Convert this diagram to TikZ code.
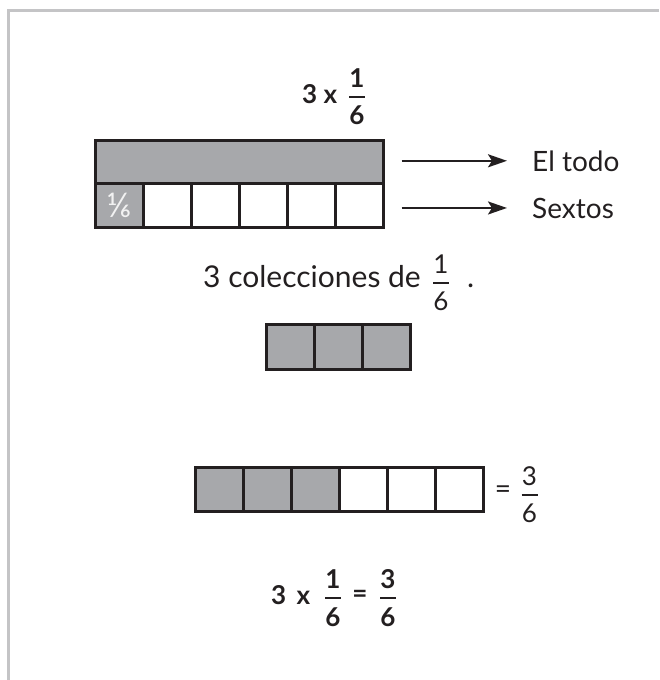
\documentclass[tikz,border=0pt]{standalone}
\usepackage{fontspec}
\setmainfont{Lato}
\usetikzlibrary{arrows.meta,calc,positioning}
\definecolor{barF}{HTML}{A7A8AB}
\definecolor{barD}{HTML}{231F20}
\definecolor{frameC}{HTML}{C4C4C6}
\definecolor{txtC}{HTML}{231F20}
\definecolor{cellT}{HTML}{F2F2F2}
\tikzset{
  cell/.style={draw=barD, line width=3pt, minimum width=48pt, minimum height=44pt, inner sep=0pt, fill=white},
  shaded/.style={cell, fill=barF},
  arr/.style={-{Stealth[length=19pt,width=13pt,inset=4pt]}, draw=barD, line width=2.2pt},
  lab/.style={font=\fontsize{28}{31}\selectfont, text=txtC, inner sep=0pt, anchor=base west},
  big/.style={lab, font=\fontsize{30}{34}\selectfont},
  bld/.style={font=\fontsize{26}{30}\selectfont\bfseries, text=txtC, inner sep=0pt, anchor=base west},
  fnum/.style={font=\fontsize{26}{28}\selectfont, text=txtC, inner sep=0pt},
  fnumb/.style={fnum, font=\fontsize{26}{28}\selectfont\bfseries},
  fbar/.style={draw=txtC, line width=2pt},
}
\newcommand\fr[4][fnum]{%
  \draw[fbar] ($(#2)+(-8,0)$) -- ($(#2)+(8,0)$);
  \node[#1, anchor=south] (#2n) at ($(#2)+(0,-9)$) {#3};
  \node[#1, anchor=north] (#2d) at ($(#2)+(0,9)$) {#4};}

\begin{document}
\begin{tikzpicture}[x=1pt,y=-1pt]
\useasboundingbox (0,0) rectangle (659,680);
\draw[frameC, line width=3pt] (8.5,680) -- (8.5,10.5) -- (659,10.5);
% title
\node[bld] (ttl) at (302,103) {3 x};
\coordinate (tf) at (357,97);
\fr[fnumb]{tf}{1}{6}
% the whole and the sixths
\node[shaded, minimum width=288pt, minimum height=43pt] (whole) at (239,161.5) {};
\node[shaded, font=\fontsize{34}{36}\selectfont, text=cellT] (s0) at (119,205) {⅙};
\foreach \i in {1,...,5}
  \node[cell] (s\i) at (119+48*\i,205) {};
\node[lab] (todo) at (532,171) {El todo};
\node[lab] (sextos) at (532,218) {Sextos};
\draw[arr] ($(todo.west -| whole.east)+(17,0)$) -- ($(todo.west)+(-25,0)$);
\draw[arr] ($(sextos.west -| s5.east)+(17,0)$) -- ($(sextos.west)+(-25,0)$);
% three collections
\node[big] (col) at (203,287) {3 colecciones de};
\coordinate (cf) at (441,283);
\fr{cf}{1}{6}
\node[big] (dot) at (467,287) {.};
\foreach \i in {0,1,2}
  \node[shaded, minimum height=45pt] (c\i) at (290+48*\i,346.5) {};
% three sixths
\foreach \i in {0,1,2}
  \node[shaded] (t\i) at (219+48*\i,489) {};
\foreach \i in {3,4,5}
  \node[cell] (t\i) at (219+48*\i,489) {};
\node[lab, anchor=center] (eq) at (503,492) {=};
\coordinate (ef) at (529.5,495);
\fr{ef}{3}{6}
% result
\node[bld] (res) at (271,604) {3\hspace{0.4em}x};
\coordinate (rf) at (333,598);
\fr[fnumb]{rf}{1}{6}
\node[bld, anchor=center] (req) at (360,596) {=};
\coordinate (rg) at (388,598);
\fr[fnumb]{rg}{3}{6}
\end{tikzpicture}
\end{document}
